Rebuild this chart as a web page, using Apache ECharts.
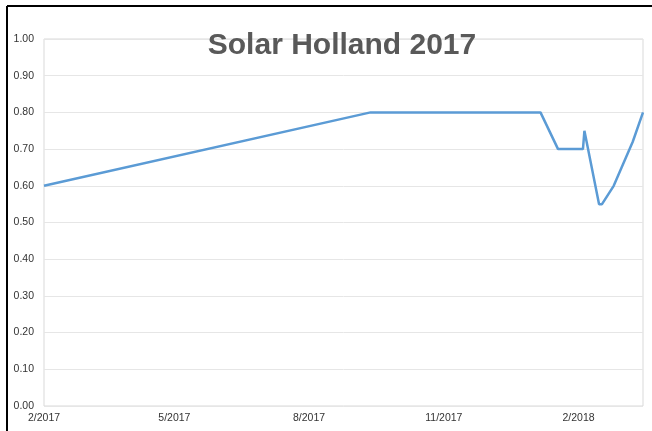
<!DOCTYPE html>
<html>
<head>
<meta charset="utf-8">
<script src="https://cdn.jsdelivr.net/npm/echarts@6/dist/echarts.min.js"></script>
<style>
  html, body { margin: 0; padding: 0; background: #fff; }
  #chart { width: 652px; height: 431px; }
</style>
</head>
<body>
<div id="chart"></div>
<script>
// dates and values
var dates = ['2017-02-01', '2017-09-12', '2018-01-06', '2018-01-18', '2018-02-04', '2018-02-05',
  '2018-02-15', '2018-02-17', '2018-02-25', '2018-03-10', '2018-03-17']
var values = [0.60, 0.80, 0.80, 0.70, 0.70, 0.75, 0.55, 0.55, 0.60, 0.72, 0.80]
var tickDates = ['2017-02-01', '2017-05-01', '2017-08-01', '2017-11-01', '2018-02-01']
var axisStart = '2017-02-01'
var axisEnd = '2018-03-17'

function toTime(s) {
  var p = s.split('-')
  return new Date(+p[0], +p[1] - 1, +p[2]).getTime()
}

var font = '"Liberation Sans", Arial, sans-serif'
var chart = echarts.init(document.getElementById('chart'))

chart.setOption({
  backgroundColor: '#fff',
  animation: false,
  title: {
    text: 'Solar Holland 2017',
    left: 337,
    textAlign: 'center',
    top: 26,
    textStyle: {
      fontFamily: font,
      fontSize: 30,
      fontWeight: 'bold',
      color: '#595959'
    }
  },
  graphic: [
    { type: 'line', shape: { x1: 7, y1: 6, x2: 652, y2: 6 }, style: { stroke: '#000', lineWidth: 2 } },
    { type: 'line', shape: { x1: 7, y1: 6, x2: 7, y2: 431 }, style: { stroke: '#000', lineWidth: 2 } }
  ],
  grid: {
    left: 44,
    right: 9,
    top: 39,
    bottom: 25,
    show: true,
    borderColor: '#d9d9d9',
    borderWidth: 1
  },
  xAxis: {
    type: 'value',
    min: toTime(axisStart),
    max: toTime(axisEnd),
    axisLine: { show: false },
    axisTick: { show: false },
    splitLine: { show: false },
    axisLabel: {
      customValues: tickDates.map(toTime),
      showMinLabel: true,
      margin: 7,
      fontFamily: font,
      fontSize: 10.5,
      color: '#333',
      formatter: function (v) {
        var d = new Date(v)
        return (d.getMonth() + 1) + '/' + d.getFullYear()
      }
    }
  },
  yAxis: {
    type: 'value',
    min: 0,
    max: 1,
    interval: 0.1,
    axisLine: { show: false },
    axisTick: { show: false },
    splitLine: { lineStyle: { color: '#e6e6e6', width: 1 } },
    axisLabel: {
      margin: 10,
      fontFamily: font,
      fontSize: 10.5,
      color: '#333',
      formatter: function (v) { return v.toFixed(2) }
    }
  },
  series: [{
    type: 'line',
    data: dates.map(function (d, i) { return [toTime(d), values[i]] }),
    showSymbol: false,
    symbol: 'none',
    lineStyle: { color: '#5b9bd5', width: 2.5 },
    itemStyle: { color: '#5b9bd5' }
  }]
})
</script>
</body>
</html>
